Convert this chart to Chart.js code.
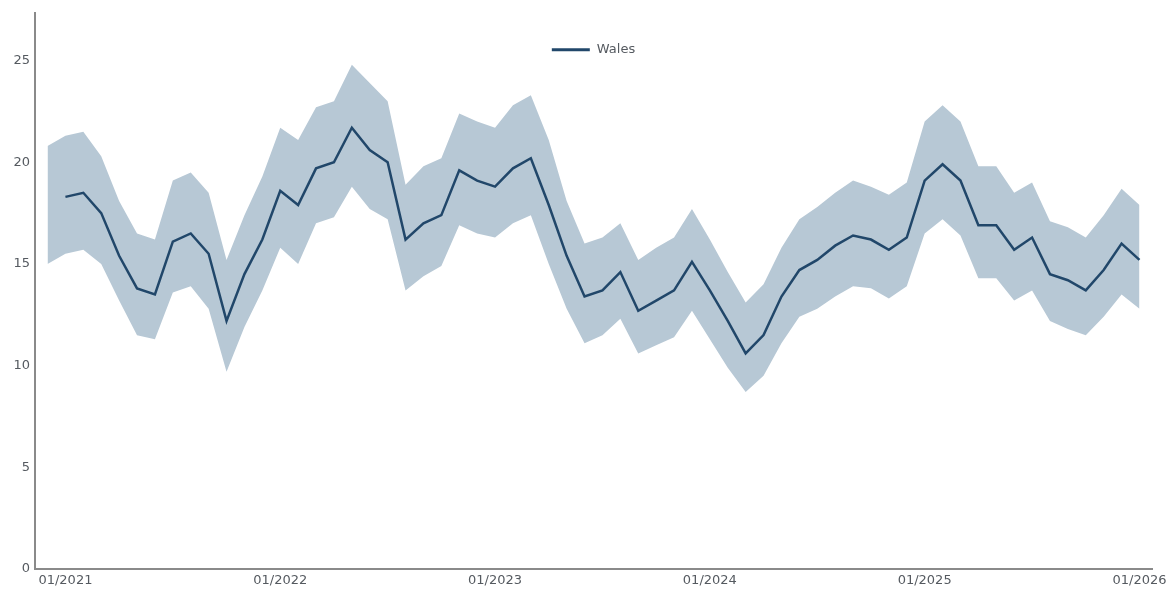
<!DOCTYPE html>
<html>
<head>
<meta charset="utf-8">
<script src="https://cdn.jsdelivr.net/npm/chart.js@4.4.1/dist/chart.umd.min.js"></script>
<style>
  html, body { margin: 0; padding: 0; background: #ffffff; }
  #wrap { width: 1174px; height: 590px; }
</style>
</head>
<body>
<div id="wrap"><canvas id="c" width="1174" height="590"></canvas></div>
<script>
// ---- data ----
const seriesName = "Wales";
const bandStartMonth = "2020-12";
const lineStartMonth = "2021-01";
const bandUpper = [20.8, 21.3, 21.5, 20.3, 18.1, 16.5, 16.2, 19.1, 19.5, 18.5, 15.2,
  17.4, 19.3, 21.7, 21.1, 22.7, 23.0, 24.8, 23.9, 23.0, 18.9, 19.8,
  20.2, 22.4, 22.0, 21.7, 22.8, 23.3, 21.1, 18.1, 16.0, 16.3,
  17.0, 15.2, 15.8, 16.3, 17.7, 16.2, 14.6, 13.1, 14.0, 15.8, 17.2,
  17.8, 18.5, 19.1, 18.8, 18.4, 19.0, 22.0, 22.8, 22.0, 19.8, 19.8,
  18.5, 19.0, 17.1, 16.8, 16.3, 17.4, 18.7, 17.9];
const bandLower = [15.0, 15.5, 15.7, 15.0, 13.2, 11.5, 11.3, 13.6, 13.9, 12.8, 9.7,
  11.9, 13.7, 15.8, 15.0, 17.0, 17.3, 18.8, 17.7, 17.2, 13.7, 14.4,
  14.9, 16.9, 16.5, 16.3, 17.0, 17.4, 15.0, 12.8, 11.1, 11.5,
  12.3, 10.6, 11.0, 11.4, 12.7, 11.3, 9.9, 8.7, 9.5, 11.1, 12.4,
  12.8, 13.4, 13.9, 13.8, 13.3, 13.9, 16.5, 17.2, 16.4, 14.3, 14.3,
  13.2, 13.7, 12.2, 11.8, 11.5, 12.4, 13.5, 12.8];
const lineValues = [18.3, 18.5, 17.5, 15.4, 13.8, 13.5, 16.1, 16.5, 15.5, 12.2,
  14.5, 16.2, 18.6, 17.9, 19.7, 20.0, 21.7, 20.6, 20.0, 16.2, 17.0,
  17.4, 19.6, 19.1, 18.8, 19.7, 20.2, 17.9, 15.4, 13.4, 13.7,
  14.6, 12.7, 13.2, 13.7, 15.1, 13.7, 12.2, 10.6, 11.5, 13.4, 14.7,
  15.2, 15.9, 16.4, 16.2, 15.7, 16.3, 19.1, 19.9, 19.1, 16.9, 16.9,
  15.7, 16.3, 14.5, 14.2, 13.7, 14.7, 16.0, 15.2];
const xTickMonths = ["2021-01", "2022-01", "2023-01", "2024-01", "2025-01", "2026-01"];
const yTickValues = [0, 5, 10, 15, 20, 25];

// ---- helpers ----
const baseYear = 2021;
function monthIndex(s) {
  const [y, m] = s.split("-").map(Number);
  return (y - baseYear) * 12 + (m - 1);
}
function toPoints(start, values) {
  const s = monthIndex(start);
  return values.map((v, i) => ({ x: s + i, y: v }));
}
function tickLabel(idx) {
  const y = baseYear + Math.floor(idx / 12);
  const m = (idx % 12) + 1;
  return String(m).padStart(2, "0") + "/" + y;
}

const lineColor = "#21476a";
const bandColor = "#b7c8d5";
const textColor = "#555a60";
const axisColor = "#8a8a8a";
const fontFamily = "'DejaVu Sans', Verdana, sans-serif";

// legend drawn inside the chart area, centered horizontally
const insideLegend = {
  id: "insideLegend",
  afterDraw(chart) {
    const { ctx, chartArea } = chart;
    const ds = chart.data.datasets[0];
    ctx.save();
    ctx.font = "13px " + fontFamily;
    const sample = 38, gap = 7;
    const tw = ctx.measureText(ds.label).width;
    const total = sample + gap + tw;
    const cx = (chartArea.left + chartArea.right) / 2;
    const x0 = cx - total / 2;
    const y = chartArea.top + 37;
    ctx.strokeStyle = ds.borderColor;
    ctx.lineWidth = 3;
    ctx.beginPath();
    ctx.moveTo(x0, y);
    ctx.lineTo(x0 + sample, y);
    ctx.stroke();
    ctx.fillStyle = textColor;
    ctx.textBaseline = "middle";
    ctx.textAlign = "left";
    ctx.fillText(ds.label, x0 + sample + gap, y);
    ctx.restore();
  }
};

const ctx = document.getElementById("c").getContext("2d");
new Chart(ctx, {
  type: "line",
  data: {
    datasets: [
      {
        label: seriesName,
        data: toPoints(lineStartMonth, lineValues),
        borderColor: lineColor,
        backgroundColor: lineColor,
        borderWidth: 2.5,
        pointRadius: 0,
        fill: false,
        tension: 0
      },
      {
        label: "upper",
        data: toPoints(bandStartMonth, bandUpper),
        borderWidth: 0,
        pointRadius: 0,
        backgroundColor: bandColor,
        fill: "+1",
        tension: 0
      },
      {
        label: "lower",
        data: toPoints(bandStartMonth, bandLower),
        borderWidth: 0,
        pointRadius: 0,
        backgroundColor: bandColor,
        fill: false,
        tension: 0
      }
    ]
  },
  plugins: [insideLegend],
  options: {
    responsive: false,
    animation: false,
    devicePixelRatio: 1,
    layout: { padding: { left: 0, right: 22, top: 10, bottom: 0 } },
    plugins: {
      tooltip: { enabled: false },
      legend: { display: false }
    },
    scales: {
      x: {
        type: "linear",
        min: -1.7,
        max: 60.7,
        grid: { display: false, drawTicks: false },
        border: { display: true, color: axisColor, width: 2 },
        afterBuildTicks: (scale) => {
          scale.ticks = xTickMonths.map(m => ({ value: monthIndex(m) }));
        },
        afterFit: (scale) => { scale.height = 21; },
        ticks: {
          autoSkip: false,
          maxRotation: 0,
          padding: 4,
          color: textColor,
          font: { family: fontFamily, size: 13 },
          callback: (v) => tickLabel(v)
        }
      },
      y: {
        type: "linear",
        min: 0,
        max: 27.35,
        grid: { display: false, drawTicks: false },
        border: { display: true, color: axisColor, width: 2 },
        afterBuildTicks: (scale) => {
          scale.ticks = yTickValues.map(v => ({ value: v }));
        },
        afterFit: (scale) => { scale.width = 35; },
        ticks: {
          padding: 5,
          color: textColor,
          font: { family: fontFamily, size: 13 }
        }
      }
    }
  }
});
</script>
</body>
</html>
